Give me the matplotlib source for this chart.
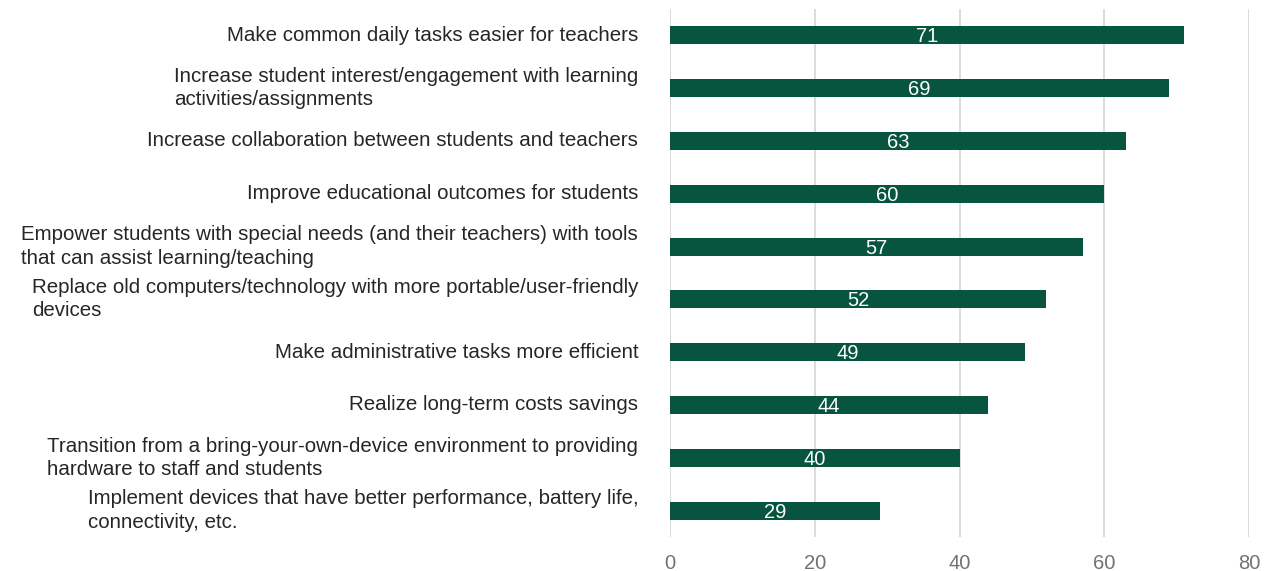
import matplotlib
matplotlib.use("Agg")
import matplotlib.pyplot as plt

categories = [
    "Make common daily tasks easier for teachers",
    "Increase student interest/engagement with learning\nactivities/assignments",
    "Increase collaboration between students and teachers",
    "Improve educational outcomes for students",
    "Empower students with special needs (and their teachers) with tools\nthat can assist learning/teaching",
    "Replace old computers/technology with more portable/user-friendly\ndevices",
    "Make administrative tasks more efficient",
    "Realize long-term costs savings",
    "Transition from a bring-your-own-device environment to providing\nhardware to staff and students",
    "Implement devices that have better performance, battery life,\nconnectivity, etc.",
]
values = [71, 69, 63, 60, 57, 52, 49, 44, 40, 29]
xticks = [0, 20, 40, 60, 80]

plt.rcParams['font.family'] = ['Liberation Sans', 'DejaVu Sans']

fig = plt.figure(figsize=(12.75, 5.71), dpi=100)
ax = fig.add_axes([670/1275, 1 - 537/571, (1249-670)/1275, (537-9)/571])

y = list(range(len(categories)))
bar_color = "#07553F"
ax.barh(y, values, height=0.34, color=bar_color, zorder=3)
ax.set_ylim(len(categories) - 0.5, -0.5)
ax.set_xlim(0, 80)
ax.set_xticks(xticks)
ax.set_xticklabels([str(t) for t in xticks], fontsize=14.5, color="#767171")
ax.tick_params(axis='x', length=0, pad=12)
ax.grid(axis='x', color="#D9D9D9", linewidth=1.3, zorder=0)
ax.set_yticks([])
for s in ax.spines.values():
    s.set_visible(False)

for yi, v in zip(y, values):
    ax.text(v / 2, yi + 0.03, str(v), ha='center', va='center', color='white', fontsize=14.5, zorder=4)

for yi, c in zip(y, categories):
    ax.text(-0.055, yi, c, transform=ax.get_yaxis_transform(), ha='right', va='center',
            multialignment='left', fontsize=14.8, color="#262626", linespacing=1.28)

fig.savefig("out.png", dpi=100)
